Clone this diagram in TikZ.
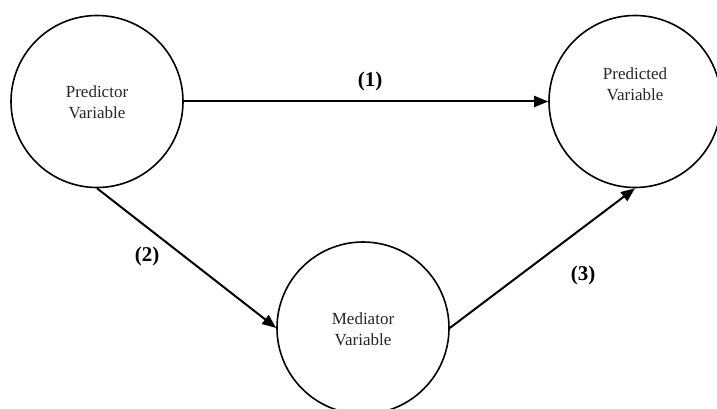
\documentclass[tikz,border=0pt]{standalone}
\usepackage{fontspec}
\setmainfont{Liberation Serif}
\usetikzlibrary{arrows.meta}
\begin{document}
\begin{tikzpicture}[x=1pt,y=1pt,
  var/.style={circle, draw=black, line width=1.6pt, minimum size=172pt, inner sep=0pt},
  vartext/.style={align=center, text=black!85, font=\fontsize{17}{21}\selectfont},
  conn/.style={line width=2pt, -{Triangle[length=14pt,width=11pt]}},
  numlab/.style={font=\fontsize{21}{23}\selectfont\bfseries}]
\useasboundingbox (0,0) rectangle (717,-409);
\node[var] (pred) at (97,-101.5) {};
\node[var] (out) at (635,-101.5) {};
\node[var] (med) at (363,-328) {};
\node[vartext] (predt) at (97,-102) {Predictor\\Variable};
\node[vartext] (outt) at (635,-84) {Predicted\\Variable};
\node[vartext] (medt) at (363,-329) {Mediator\\Variable};
\draw[conn] (pred.east) -- (out.west);
\draw[conn] (pred.south) -- (med.west);
\draw[conn] (med.east) -- (out.south);
\node[numlab] (l1) at (370,-81) {(1)};
\node[numlab] (l2) at (147,-256) {(2)};
\node[numlab] (l3) at (583,-275) {(3)};
\end{tikzpicture}
\end{document}
